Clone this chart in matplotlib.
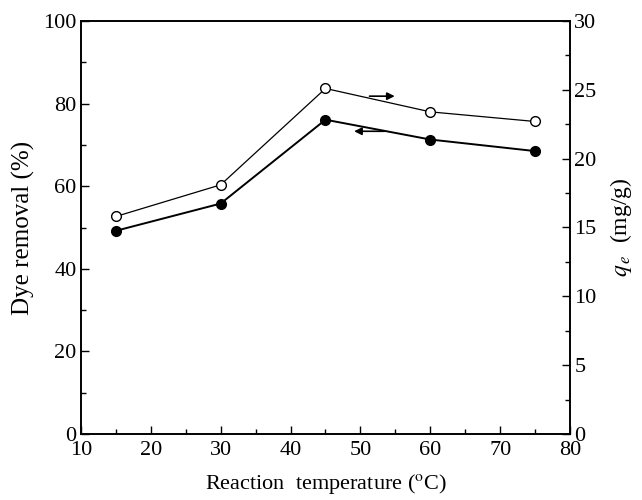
import matplotlib.pyplot as plt
from matplotlib.ticker import MultipleLocator

plt.rcParams['font.family'] = 'Liberation Serif'
plt.rcParams['mathtext.fontset'] = 'stix'

temperature = [15, 30, 45, 60, 75]
dye_removal = [49.2, 55.8, 76.1, 71.3, 68.5]
qe = [15.8, 18.1, 25.1, 23.4, 22.7]

fig = plt.figure(figsize=(6.42, 5.0), dpi=100)
ax = fig.add_axes([0.126, 0.132, 0.762, 0.826])
ax2 = ax.twinx()

ax.plot(temperature, dye_removal, color='black', lw=1.4, marker='o', ms=7,
        mfc='black', mec='black')
ax2.plot(temperature, qe, color='black', lw=0.9, marker='o', ms=7,
         mfc='white', mec='black', mew=1.0)

# arrows pointing to each series' axis
ax.annotate('', xy=(55.3, 81.8), xytext=(50.9, 81.8),
            arrowprops=dict(arrowstyle='-|>', color='black', lw=1.2, mutation_scale=11))
ax.annotate('', xy=(48.7, 73.3), xytext=(53.8, 73.3),
            arrowprops=dict(arrowstyle='-|>', color='black', lw=1.2, mutation_scale=11))

ax.set_xlim(10, 80)
ax.set_ylim(0, 100)
ax2.set_ylim(0, 30)

ax.xaxis.set_major_locator(MultipleLocator(10))
ax.xaxis.set_minor_locator(MultipleLocator(5))
ax.yaxis.set_major_locator(MultipleLocator(20))
ax.yaxis.set_minor_locator(MultipleLocator(10))
ax2.yaxis.set_major_locator(MultipleLocator(5))
ax2.yaxis.set_minor_locator(MultipleLocator(2.5))

for a in (ax, ax2):
    a.tick_params(which='major', direction='in', length=6, width=1.0, labelsize=16)
    a.tick_params(which='minor', direction='in', length=3.5, width=1.0)
    for s in a.spines.values():
        s.set_linewidth(1.2)
ax.tick_params(axis='x', which='major', pad=5)
ax.tick_params(axis='y', which='major', pad=3)
ax2.tick_params(axis='y', which='major', pad=3)

ax.set_xlabel(r'Reaction  temperature ($^{\rm o}$C)', fontsize=16, labelpad=9)
ax.set_ylabel('Dye removal (%)', fontsize=18, labelpad=6)
ax2.set_ylabel(r'$q_{\,e}$  (mg/g)', fontsize=17, labelpad=8)

fig.savefig('out.png', dpi=100)
